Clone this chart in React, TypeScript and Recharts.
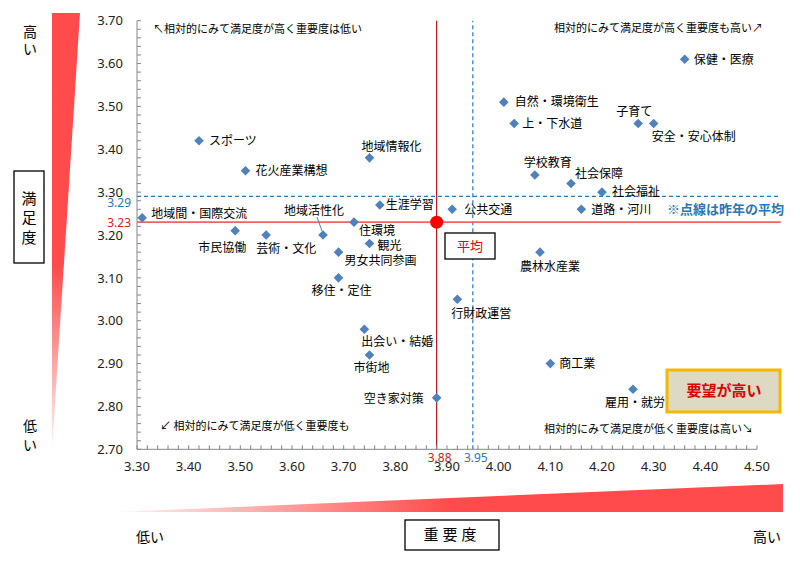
// 重要度・満足度の散布図（市民意識調査）
import {
  ScatterChart,
  Scatter,
  XAxis,
  YAxis,
  ReferenceLine,
} from 'recharts';

const NAMES = [
  '保健・医療', '自然・環境衛生', '上・下水道', '子育て', '安全・安心体制',
  '学校教育', '社会保障', '社会福祉', '公共交通', '道路・河川',
  'スポーツ', '花火産業構想', '地域情報化', '生涯学習', '地域間・国際交流',
  '住環境', '地域活性化', '市民協働', '芸術・文化', '観光',
  '男女共同参画', '移住・定住', '行財政運営', '出会い・結婚', '市街地',
  '農林水産業', '商工業', '雇用・就労', '空き家対策',
];

// 重要度
const IMPORTANCE = [
  4.36, 4.01, 4.03, 4.27, 4.30,
  4.07, 4.14, 4.20, 3.91, 4.16,
  3.42, 3.51, 3.75, 3.77, 3.31,
  3.72, 3.66, 3.49, 3.55, 3.75,
  3.69, 3.69, 3.92, 3.74, 3.75,
  4.08, 4.10, 4.26, 3.88,
];

// 満足度
const SATISFACTION = [
  3.61, 3.51, 3.46, 3.46, 3.46,
  3.34, 3.32, 3.30, 3.26, 3.26,
  3.42, 3.35, 3.38, 3.27, 3.24,
  3.23, 3.20, 3.21, 3.20, 3.18,
  3.16, 3.10, 3.05, 2.98, 2.92,
  3.16, 2.90, 2.84, 2.82,
];

const AVG_IMPORTANCE = 3.88;
const AVG_SATISFACTION = 3.23;
const LAST_IMPORTANCE = 3.95;
const LAST_SATISFACTION = 3.29;

const X_MAJOR = [3.3, 3.4, 3.5, 3.6, 3.7, 3.8, 3.9, 4.0, 4.1, 4.2, 4.3, 4.4, 4.5];
const Y_MAJOR = [2.7, 2.8, 2.9, 3.0, 3.1, 3.2, 3.3, 3.4, 3.5, 3.6, 3.7];

// minor ticks every 0.02 between the major ones
const withMinor = (major: number[]) => {
  const out: number[] = [];
  for (let i = 0; i < major.length - 1; i++) {
    for (let k = 0; k < 5; k++) out.push(+(major[i] + k * 0.02).toFixed(2));
  }
  out.push(major[major.length - 1]);
  return out;
};
const X_TICKS = withMinor(X_MAJOR);
const Y_TICKS = withMinor(Y_MAJOR);
const isMajor = (v: number) => Math.abs(v * 10 - Math.round(v * 10)) < 1e-6;

const items = NAMES.map((name, i) => ({ name, x: IMPORTANCE[i], y: SATISFACTION[i] }));
const avgPoint = [{ x: AVG_IMPORTANCE, y: AVG_SATISFACTION }];

// where each label sits relative to its marker: anchor, dx, dy
const LABEL_PLACE: Record<string, [string, number, number]> = {
  '保健・医療': ['start', 9, 0],
  '自然・環境衛生': ['start', 11, 0],
  '上・下水道': ['start', 8, 0],
  '子育て': ['middle', -4, -12],
  '安全・安心体制': ['start', -2, 13],
  '学校教育': ['start', -11, -12],
  '社会保障': ['start', 4, -10],
  '社会福祉': ['start', 10, 0],
  '公共交通': ['start', 12, 0],
  '道路・河川': ['start', 10, 0],
  'スポーツ': ['start', 10, 0],
  '花火産業構想': ['start', 10, 0],
  '地域情報化': ['start', -8, -11],
  '生涯学習': ['start', 6, 0],
  '地域間・国際交流': ['start', 9, -4],
  '住環境': ['start', 5, 9],
  '地域活性化': ['middle', -9, -24],
  '市民協働': ['middle', -13, 17],
  '芸術・文化': ['start', -10, 14],
  '観光': ['start', 8, 2],
  '男女共同参画': ['start', 6, 9],
  '移住・定住': ['middle', 3, 13],
  '行財政運営': ['start', -6, 14],
  '出会い・結婚': ['start', -3, 12],
  '市街地': ['middle', 2, 13],
  '農林水産業': ['start', -20, 15],
  '商工業': ['start', 9, 0],
  '雇用・就労': ['middle', 2, 13],
  '空き家対策': ['end', -13, 1],
};

const JP = '"Noto Sans CJK JP", "Noto Sans", sans-serif';
const AXIS_COLOR = '#868686';

const DiamondWithLabel = (props: any) => {
  const { cx, cy, payload } = props;
  const [anchor, dx, dy] = LABEL_PLACE[payload.name] || ['start', 9, 0];
  const s = 4.8;
  return (
    <g>
      {payload.name === '地域活性化' && (
        <line x1={cx - 6} y1={cy - 18} x2={cx - 1} y2={cy - 4} stroke="#4f81bd" strokeWidth={1} />
      )}
      <polygon
        points={`${cx},${cy - s} ${cx + s},${cy} ${cx},${cy + s} ${cx - s},${cy}`}
        fill="#4f81bd"
      />
      <text
        x={cx + dx}
        y={cy + dy}
        dy="0.36em"
        textAnchor={anchor as any}
        fontSize={12}
        fontFamily={JP}
        fill="#000"
      >
        {payload.name}
      </text>
    </g>
  );
};

const XTick = (props: any) => {
  const { x, y, payload } = props;
  const axisY = y - 12;
  return (
    <g>
      <line x1={x} y1={axisY} x2={x} y2={axisY - 4} stroke={AXIS_COLOR} />
      {isMajor(payload.value) && (
        <text x={x} y={y} dy="0.71em" textAnchor="middle" fontSize={13} fontFamily='"Noto Sans", sans-serif' fill="#222">
          {payload.value.toFixed(2)}
        </text>
      )}
    </g>
  );
};

const YTick = (props: any) => {
  const { x, y, payload } = props;
  const axisX = x + 14;
  return (
    <g>
      <line x1={axisX} y1={y} x2={axisX + 4} y2={y} stroke={AXIS_COLOR} />
      {isMajor(payload.value) && (
        <text x={x} y={y} dy="0.36em" textAnchor="end" fontSize={13} fontFamily='"Noto Sans", sans-serif' fill="#222">
          {payload.value.toFixed(2)}
        </text>
      )}
    </g>
  );
};

const hLabel = (text: string, color: string, shift: number) => (p: any) => {
  const vb = p.viewBox || {};
  return (
    <text x={vb.x - 6} y={vb.y + shift} dy="0.36em" textAnchor="end" fontSize={12} fontFamily='"Noto Sans", sans-serif' fill={color}>
      {text}
    </text>
  );
};

const vLabel = (text: string, color: string) => (p: any) => {
  const vb = p.viewBox || {};
  return (
    <text x={vb.x + 3} y={vb.y + vb.height + 8} dy="0.36em" textAnchor="middle" fontSize={12} fontFamily='"Noto Sans", sans-serif' fill={color}>
      {text}
    </text>
  );
};

const Annotations = () => (
  <svg
    width={800}
    height={562}
    style={{ position: 'absolute', left: 0, top: 0, pointerEvents: 'none' }}
    fontFamily={JP}
  >
    <defs>
      <linearGradient id="gv" x1="0" y1="0" x2="0" y2="1">
        <stop offset="0" stopColor="#ff4b4b" />
        <stop offset="0.58" stopColor="#ff4b4b" />
        <stop offset="1" stopColor="#fff4f4" />
      </linearGradient>
      <linearGradient id="gh" x1="0" y1="0" x2="1" y2="0">
        <stop offset="0" stopColor="#fff4f4" />
        <stop offset="0.5" stopColor="#ff4b4b" />
        <stop offset="1" stopColor="#ff4b4b" />
      </linearGradient>
    </defs>

    <polygon points="52,13 80,13 52,450" fill="url(#gv)" />
    <polygon points="117,512 783,484 783,512" fill="url(#gh)" />

    <text x={30} y={32} dy="0.36em" textAnchor="middle" fontSize={14}>高</text>
    <text x={30} y={49} dy="0.36em" textAnchor="middle" fontSize={14}>い</text>
    <text x={30} y={426} dy="0.36em" textAnchor="middle" fontSize={14}>低</text>
    <text x={30} y={445} dy="0.36em" textAnchor="middle" fontSize={14}>い</text>

    <rect x={14} y={171} width={30} height={92} fill="#fff" stroke="#000" strokeWidth={1.3} />
    <text x={29} y={199} dy="0.36em" textAnchor="middle" fontSize={15}>満</text>
    <text x={29} y={218} dy="0.36em" textAnchor="middle" fontSize={15}>足</text>
    <text x={29} y={238} dy="0.36em" textAnchor="middle" fontSize={15}>度</text>

    <rect x={405} y={520} width={94} height={30} fill="#fff" stroke="#000" strokeWidth={1.3} />
    <text x={452} y={535} dy="0.36em" textAnchor="middle" fontSize={15} letterSpacing={4}>重要度</text>
    <text x={150} y={537} dy="0.36em" textAnchor="middle" fontSize={14}>低い</text>
    <text x={767} y={537} dy="0.36em" textAnchor="middle" fontSize={14}>高い</text>

    <text x={153} y={29} dy="0.36em" fontSize={11}>↖相対的にみて満足度が高く重要度は低い</text>
    <text x={763} y={28} dy="0.36em" textAnchor="end" fontSize={11}>相対的にみて満足度が高く重要度も高い↗</text>
    <text x={160} y={426} dy="0.36em" fontSize={11}>↙ 相対的にみて満足度が低く重要度も</text>
    <text x={753} y={429} dy="0.36em" textAnchor="end" fontSize={11}>相対的にみて満足度が低く重要度は高い↘</text>

    <text x={667} y={209} dy="0.36em" fontSize={13} fontWeight={600} fill="#2e75b6">※点線は昨年の平均</text>

    <rect x={445} y={233} width={50} height={26} fill="#fff" stroke="#000" strokeWidth={1.3} />
    <text x={470} y={246} dy="0.36em" textAnchor="middle" fontSize={13} fill="#e00000">平均</text>

    <rect x={667} y={370} width={113} height={42} fill="#ddd9c3" stroke="#f5b800" strokeWidth={3} />
    <text x={724} y={391} dy="0.36em" textAnchor="middle" fontSize={15} fontWeight={700} fill="#e00000">要望が高い</text>
  </svg>
);

export default function App() {
  return (
    <div style={{ position: 'absolute', left: 0, top: 0, width: 800, height: 562, background: '#fff' }}>
      <ScatterChart width={800} height={562} margin={{ top: 20.7, right: 43, bottom: 82.7, left: 87 }}>
        <XAxis
          type="number"
          dataKey="x"
          domain={[3.3, 4.5]}
          ticks={X_TICKS}
          interval={0}
          height={30}
          tickSize={0}
          tickMargin={12}
          tickLine={false}
          tick={<XTick />}
          stroke={AXIS_COLOR}
          allowDataOverflow
        />
        <YAxis
          type="number"
          dataKey="y"
          domain={[2.7, 3.7]}
          ticks={Y_TICKS}
          interval={0}
          width={50}
          tickSize={0}
          tickMargin={14}
          tickLine={false}
          tick={<YTick />}
          stroke={AXIS_COLOR}
          allowDataOverflow
        />
        <ReferenceLine
          segment={[{ x: 3.3, y: LAST_SATISFACTION }, { x: 4.546, y: LAST_SATISFACTION }]}
          ifOverflow="visible"
          stroke="#2e75b6"
          strokeDasharray="4 3"
          strokeWidth={1.2}
          label={hLabel('3.29', '#2e75b6', 6)}
        />
        <ReferenceLine
          x={LAST_IMPORTANCE}
          stroke="#2e75b6"
          strokeDasharray="4 3"
          strokeWidth={1.2}
          label={vLabel('3.95', '#2e75b6')}
        />
        <ReferenceLine
          segment={[{ x: 3.3, y: AVG_SATISFACTION }, { x: 4.546, y: AVG_SATISFACTION }]}
          ifOverflow="visible"
          stroke="#f06464"
          strokeWidth={1.6}
          label={hLabel('3.23', '#d42020', 1)}
        />
        <ReferenceLine
          x={AVG_IMPORTANCE}
          stroke="#b00000"
          strokeWidth={1.1}
          label={vLabel('3.88', '#d42020')}
        />
        <Scatter data={items} shape={DiamondWithLabel} isAnimationActive={false} />
        <Scatter
          data={avgPoint}
          isAnimationActive={false}
          shape={(p: any) => <circle cx={p.cx} cy={p.cy} r={6.5} fill="#ff0000" />}
        />
      </ScatterChart>
      <Annotations />
    </div>
  );
}
